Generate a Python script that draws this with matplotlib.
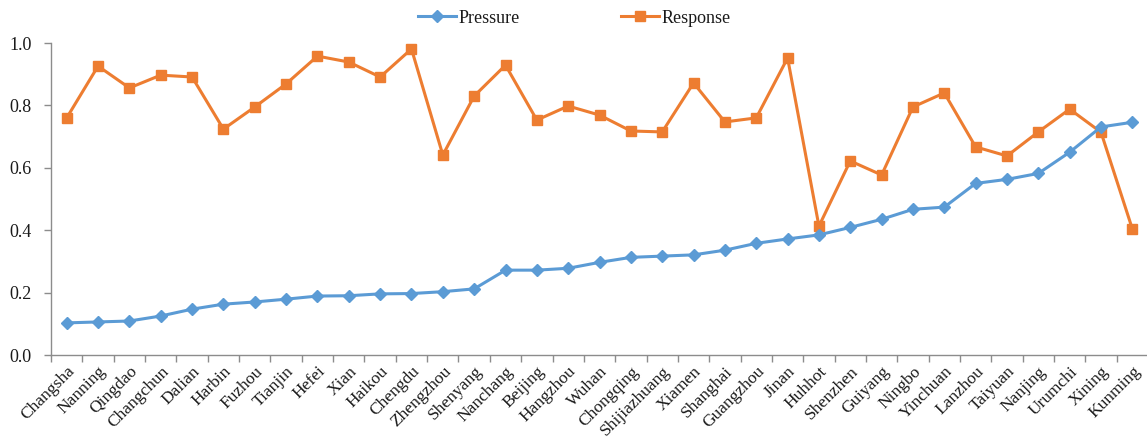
import matplotlib
matplotlib.use("Agg")
import matplotlib.pyplot as plt
import matplotlib.transforms as mtransforms
import numpy as np
from matplotlib.ticker import FixedLocator, MultipleLocator, FormatStrFormatter

plt.rcParams['font.family'] = ['Liberation Serif', 'DejaVu Serif']

cities = ["Changsha", "Nanning", "Qingdao", "Changchun", "Dalian", "Harbin", "Fuzhou",
          "Tianjin", "Hefei", "Xian", "Haikou", "Chengdu", "Zhengzhou", "Shenyang",
          "Nanchang", "Beijing", "Hangzhou", "Wuhan", "Chongqing", "Shijiazhuang",
          "Xiamen", "Shanghai", "Guangzhou", "Jinan", "Huhhot", "Shenzhen", "Guiyang",
          "Ningbo", "Yinchuan", "Lanzhou", "Taiyuan", "Nanjing", "Urumchi", "Xining",
          "Kunming"]

pressure = [0.103, 0.106, 0.109, 0.125, 0.147, 0.163, 0.170, 0.179, 0.189, 0.190,
            0.196, 0.197, 0.203, 0.212, 0.272, 0.272, 0.278, 0.297, 0.313, 0.317,
            0.321, 0.336, 0.358, 0.372, 0.385, 0.409, 0.435, 0.467, 0.474, 0.550,
            0.563, 0.582, 0.650, 0.731, 0.746]

response = [0.760, 0.926, 0.856, 0.897, 0.891, 0.724, 0.795, 0.869, 0.958, 0.939,
            0.891, 0.981, 0.641, 0.830, 0.929, 0.753, 0.798, 0.769, 0.718, 0.715,
            0.872, 0.747, 0.760, 0.952, 0.413, 0.622, 0.577, 0.795, 0.840, 0.667,
            0.638, 0.715, 0.788, 0.714, 0.404]

blue = "#5B9BD5"
orange = "#ED7D31"
axis_gray = "#8c8c8c"
text_color = "#1a1a1a"

fig = plt.figure(figsize=(11.47, 4.37), dpi=100)
ax = fig.add_axes([0.0445, 0.1876, 0.9564, 0.714])

x = np.arange(len(cities))
ax.plot(x, pressure, color=blue, lw=2.2, marker="D", ms=6, mec=blue, mfc=blue,
        label="Pressure", zorder=3)
ax.plot(x, response, color=orange, lw=2.2, marker="s", ms=7.5, mec=orange, mfc=orange,
        label="Response", zorder=2)

ax.set_xlim(-0.5, len(cities) - 0.5)
ax.set_ylim(0, 1.0)
ax.yaxis.set_major_locator(MultipleLocator(0.2))
ax.yaxis.set_major_formatter(FormatStrFormatter("%.1f"))

ax.set_xticks(x)
ax.set_xticklabels(cities, rotation=45, ha="right", va="top", rotation_mode="anchor")
shift = mtransforms.ScaledTranslation(-2 / 100, 0, fig.dpi_scale_trans)
for lbl in ax.get_xticklabels():
    lbl.set_transform(lbl.get_transform() + shift)
ax.xaxis.set_minor_locator(FixedLocator(np.arange(-0.5, len(cities), 1.0)))
ax.tick_params(axis="x", which="major", length=0, pad=6, labelsize=12.5, colors=text_color)
ax.tick_params(axis="x", which="minor", length=5, width=1, color=axis_gray)
ax.tick_params(axis="y", which="major", length=5, width=1, color=axis_gray,
               labelsize=13, labelcolor=text_color, pad=9)

for side in ("top", "right"):
    ax.spines[side].set_visible(False)
for side in ("left", "bottom"):
    ax.spines[side].set_color(axis_gray)
    ax.spines[side].set_linewidth(1)

leg = ax.legend(loc="center", bbox_to_anchor=(0.477, 1.0 + 24.7 / 312), ncol=2,
                frameon=False, fontsize=13, handlelength=2.1, columnspacing=5.6,
                handletextpad=0.15, borderaxespad=0)
for t in leg.get_texts():
    t.set_color(text_color)

fig.savefig("out.png", dpi=100)
